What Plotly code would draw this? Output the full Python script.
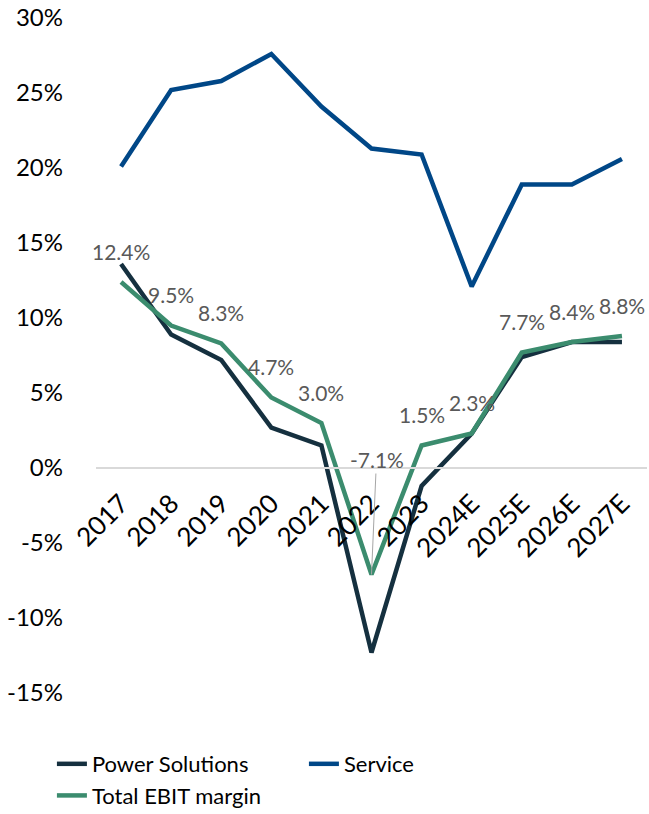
import plotly.graph_objects as go

years = ["2017", "2018", "2019", "2020", "2021", "2022", "2023", "2024E", "2025E", "2026E", "2027E"]
power_solutions = [13.6, 8.9, 7.2, 2.7, 1.5, -12.3, -1.2, 2.3, 7.4, 8.4, 8.4]
service = [20.1, 25.2, 25.8, 27.6, 24.1, 21.3, 20.9, 12.1, 18.9, 18.9, 20.6]
total_ebit = [12.4, 9.5, 8.3, 4.7, 3.0, -7.1, 1.5, 2.3, 7.7, 8.4, 8.8]
y_ticks = [-15, -10, -5, 0, 5, 10, 15, 20, 25, 30]

FONT = "Lato"

fig = go.Figure()
fig.add_trace(go.Scatter(x=years, y=power_solutions, mode="lines", name="Power Solutions",
                         line=dict(color="#15303f", width=4.5)))
fig.add_trace(go.Scatter(x=years, y=service, mode="lines", name="Service",
                         line=dict(color="#004787", width=4.5)))
fig.add_trace(go.Scatter(x=years, y=total_ebit, mode="lines", name="Total EBIT margin",
                         line=dict(color="#3b8c6e", width=4.5)))

for i, v in enumerate(total_ebit):
    txt = f"{v:.1f}%"
    if v < 0:
        fig.add_annotation(x=i, y=v, text=txt, showarrow=True, arrowhead=0,
                           arrowwidth=1, arrowcolor="#a6a6a6", ax=5, ay=-115,
                           standoff=0, font=dict(family=FONT, size=21, color="#595959"))
    else:
        fig.add_annotation(x=i, y=v, text=txt, showarrow=False, yshift=31,
                           font=dict(family=FONT, size=21, color="#595959"))

fig.update_layout(
    width=649, height=814,
    margin=dict(l=96, r=2, t=18, b=121, autoexpand=False),
    paper_bgcolor="white", plot_bgcolor="white",
    font=dict(family=FONT, color="black"),
    showlegend=True,
    legend=dict(orientation="h", xref="container", yref="container",
                x=0.080, y=0.0872, xanchor="left", yanchor="top",
                entrywidth=207, entrywidthmode="pixels",
                font=dict(family=FONT, size=22, color="black")),
    xaxis=dict(type="category", range=[-0.5, 10.5], anchor="free", position=1/3,
               showline=True, linecolor="#d9d9d9", linewidth=2, automargin=False,
               showgrid=False, zeroline=False, ticks="", tickangle=-45,
               ticklabelstandoff=9,
               tickfont=dict(family=FONT, size=26, color="black")),
    yaxis=dict(range=[-15, 30], tickvals=y_ticks, ticktext=[f"{t}%" for t in y_ticks],
               showgrid=False, zeroline=False, showline=False, ticks="", automargin=False,
               ticklabelstandoff=32,
               tickfont=dict(family=FONT, size=24, color="black")),
)

fig.write_html("out.html", config={"displayModeBar": False},
               post_script="document.body.style.margin='0';document.body.style.padding='0';")
